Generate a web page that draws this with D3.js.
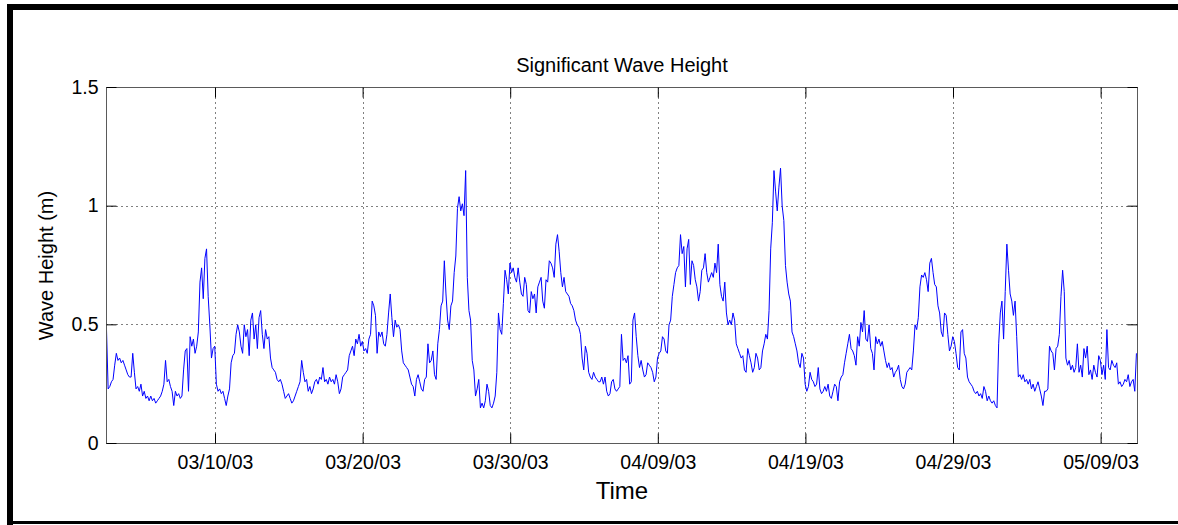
<!DOCTYPE html>
<html>
<head>
<meta charset="utf-8">
<script src="https://cdn.jsdelivr.net/npm/d3@7"></script>
<style>
  html, body { margin: 0; padding: 0; background: #fff; }
  svg { display: block; }
</style>
</head>
<body>
<svg id="chart" width="1178" height="525"></svg>
<script>
// Significant wave height record, one sample every 160 minutes from 2 March 2003 14:45 UTC
const sampleStart = "2003-03-02T14:45:00Z";
const sampleStepMinutes = 160;
const axisEnd = "2003-05-11T11:10:00Z";

// 2 March - 19 March
const hsEarlyMarch = [
  0.48,0.23,0.24,0.26,0.27,0.33,0.38,0.35,0.36,0.34,
  0.35,0.33,0.31,0.29,0.28,0.28,0.38,0.30,0.23,0.24,
  0.22,0.25,0.20,0.22,0.19,0.20,0.18,0.20,0.18,0.19,
  0.17,0.18,0.19,0.20,0.22,0.25,0.35,0.26,0.27,0.24,
  0.22,0.16,0.22,0.20,0.21,0.19,0.20,0.31,0.39,0.40,
  0.22,0.45,0.41,0.44,0.38,0.41,0.47,0.68,0.74,0.61,
  0.78,0.82,0.62,0.50,0.36,0.40,0.41,0.25,0.22,0.23,
  0.21,0.22,0.19,0.16,0.20,0.23,0.34,0.37,0.38,0.46,
  0.50,0.47,0.41,0.38,0.50,0.45,0.48,0.37,0.52,0.55,
  0.44,0.50,0.40,0.53,0.56,0.46,0.40,0.48,0.44,0.45,
  0.36,0.32,0.31,0.30,0.27,0.26,0.27,0.25,0.22,0.19,
  0.20,0.21,0.19,0.17,0.18,0.20,0.22,0.24,0.26,0.35,
  0.30,0.26,0.27,0.22,0.24,0.21,0.23,0.26,0.27,0.25,
  0.28,0.27,0.32,0.26,0.27,0.25,0.28,0.26,0.27,0.25,
  0.29,0.26,0.21,0.23,0.28,0.29,0.30,0.31,0.37,0.39,
  0.41,0.37,0.44,0.42,0.46
];

// 19 March - 5 April
const hsLateMarch = [
  0.41,0.43,0.39,0.40,0.38,0.44,0.46,0.60,0.58,0.54,
  0.38,0.47,0.45,0.47,0.42,0.41,0.46,0.55,0.63,0.53,
  0.45,0.52,0.49,0.50,0.48,0.39,0.34,0.33,0.32,0.31,
  0.28,0.25,0.24,0.20,0.27,0.29,0.26,0.23,0.22,0.27,
  0.28,0.42,0.34,0.35,0.39,0.29,0.27,0.42,0.48,0.58,
  0.60,0.77,0.63,0.52,0.48,0.58,0.60,0.72,0.79,0.99,
  1.04,0.98,1.01,0.96,1.15,0.70,0.56,0.52,0.35,0.31,
  0.20,0.23,0.27,0.15,0.17,0.15,0.18,0.25,0.22,0.16,
  0.15,0.17,0.20,0.30,0.55,0.48,0.46,0.59,0.73,0.69,
  0.63,0.76,0.72,0.74,0.70,0.68,0.74,0.68,0.63,0.62,
  0.70,0.67,0.56,0.55,0.64,0.61,0.63,0.55,0.66,0.68,
  0.70,0.60,0.57,0.69,0.68,0.77,0.76,0.74,0.70,0.84,
  0.88,0.81,0.72,0.66,0.70,0.64,0.63,0.62,0.59,0.58,
  0.56,0.52,0.50,0.49,0.46,0.36,0.31,0.41,0.38,0.30,
  0.28,0.27,0.30,0.28,0.27,0.26
];

// 5 April - 23 April
const hsApril = [
  0.26,0.28,0.25,0.28,0.22,0.20,0.21,0.26,0.27,0.23,
  0.22,0.23,0.24,0.46,0.35,0.36,0.34,0.37,0.25,0.26,
  0.52,0.55,0.45,0.37,0.32,0.35,0.31,0.28,0.29,0.34,
  0.33,0.32,0.30,0.26,0.28,0.36,0.38,0.39,0.45,0.44,
  0.39,0.38,0.50,0.52,0.62,0.67,0.72,0.74,0.75,0.88,
  0.80,0.83,0.66,0.82,0.86,0.67,0.77,0.75,0.69,0.66,
  0.60,0.64,0.73,0.74,0.80,0.72,0.68,0.70,0.72,0.70,
  0.76,0.72,0.84,0.67,0.62,0.60,0.68,0.55,0.50,0.52,
  0.50,0.55,0.52,0.42,0.40,0.38,0.36,0.37,0.31,0.30,
  0.40,0.37,0.34,0.30,0.32,0.38,0.36,0.31,0.32,0.39,
  0.42,0.46,0.44,0.56,0.82,0.93,1.15,1.06,0.98,1.08,
  1.16,1.00,0.94,0.75,0.68,0.63,0.60,0.47,0.45,0.42,
  0.39,0.34,0.32,0.38,0.36,0.25,0.22,0.24,0.30,0.27,
  0.26,0.24,0.25,0.32,0.23,0.21,0.22,0.24,0.22,0.25,
  0.20,0.19,0.22,0.25,0.24,0.18,0.26,0.28,0.29,0.34,
  0.38,0.42,0.46,0.40,0.39,0.37,0.33,0.45,0.41
];

// 23 April - 11 May
const hsMay = [
  0.51,0.47,0.56,0.44,0.43,0.50,0.40,0.38,0.31,0.45,
  0.42,0.44,0.41,0.43,0.39,0.35,0.32,0.34,0.31,0.32,
  0.28,0.30,0.31,0.33,0.27,0.24,0.23,0.25,0.30,0.31,
  0.32,0.31,0.39,0.50,0.48,0.53,0.66,0.71,0.70,0.72,
  0.69,0.64,0.76,0.78,0.72,0.67,0.66,0.58,0.55,0.47,
  0.45,0.55,0.54,0.46,0.39,0.41,0.45,0.43,0.38,0.32,
  0.31,0.47,0.48,0.38,0.36,0.28,0.26,0.25,0.24,0.22,
  0.21,0.22,0.20,0.21,0.19,0.24,0.22,0.18,0.20,0.18,
  0.17,0.18,0.16,0.15,0.42,0.55,0.60,0.44,0.64,0.84,
  0.73,0.63,0.60,0.54,0.60,0.45,0.28,0.29,0.27,0.29,
  0.26,0.27,0.25,0.27,0.23,0.25,0.22,0.24,0.26,0.23,
  0.20,0.16,0.22,0.22,0.23,0.41,0.39,0.38,0.31,0.40,
  0.41,0.46,0.62,0.73,0.64,0.36,0.33,0.35,0.31,0.33,
  0.30,0.32,0.42,0.30,0.33,0.28,0.40,0.36,0.41,0.29,
  0.31,0.27,0.33,0.30,0.28,0.37,0.35,0.29,0.33,0.27,
  0.48,0.32,0.31,0.35,0.33,0.32,0.34,0.25,0.26,0.24,
  0.25,0.27,0.26,0.29,0.24,0.26,0.27,0.22,0.38
];

const xTickLabels = ["03/10/03","03/20/03","03/30/03","04/09/03","04/19/03","04/29/03","05/09/03"];
const yTickValues = [0, 0.5, 1, 1.5];

const chartTitle = "Significant Wave Height";
const yTitle = "Wave Height (m)";
const xTitle = "Time";

const FONT = "'Liberation Sans', Arial, Helvetica, sans-serif";

const svg = d3.select("#chart");

// outer frame
svg.append("rect").attr("x", 7).attr("y", 4).attr("width", 1171).attr("height", 6).attr("fill", "#000");
svg.append("rect").attr("x", 7).attr("y", 4).attr("width", 6).attr("height", 521).attr("fill", "#000");
svg.append("rect").attr("x", 7).attr("y", 521).attr("width", 1171).attr("height", 3).attr("fill", "#000");

const plotLeft = 106.5, plotRight = 1137.5, plotTop = 87.5, plotBottom = 443.5;

const parseIso = d3.utcParse("%Y-%m-%dT%H:%M:%SZ");
const parseTick = d3.utcParse("%m/%d/%y");
const formatTick = d3.utcFormat("%m/%d/%y");

const t0 = parseIso(sampleStart);
const series = [].concat(hsEarlyMarch, hsLateMarch, hsApril, hsMay).map((v, i) => ({
  t: new Date(t0.getTime() + i * sampleStepMinutes * 60000),
  v: v
}));

const x = d3.scaleUtc().domain([t0, parseIso(axisEnd)]).range([plotLeft, plotRight]);
const y = d3.scaleLinear().domain([0, 1.5]).range([plotBottom, plotTop]);

const xTicks = xTickLabels.map(parseTick);
const crisp = p => Math.round(p - 0.5) + 0.5;

// dotted grid
const grid = svg.append("g").attr("stroke", "#000").attr("stroke-width", 1)
  .attr("stroke-dasharray", "1,4").attr("fill", "none");
xTicks.forEach(d => {
  const px = crisp(x(d));
  grid.append("line").attr("x1", px).attr("x2", px).attr("y1", plotTop).attr("y2", plotBottom);
});
yTickValues.filter(d => d > 0 && d < 1.5).forEach(d => {
  const py = crisp(y(d));
  grid.append("line").attr("x1", plotLeft).attr("x2", plotRight).attr("y1", py).attr("y2", py);
});

// data line
svg.append("clipPath").attr("id", "plotClip")
  .append("rect").attr("x", plotLeft).attr("y", plotTop)
  .attr("width", plotRight - plotLeft).attr("height", plotBottom - plotTop);

const line = d3.line().x(d => x(d.t)).y(d => y(d.v));
svg.append("path")
  .datum(series)
  .attr("clip-path", "url(#plotClip)")
  .attr("fill", "none")
  .attr("stroke", "#0000ff")
  .attr("stroke-width", 1)
  .attr("d", line);

// axes box
svg.append("rect").attr("x", plotLeft).attr("y", plotTop)
  .attr("width", plotRight - plotLeft).attr("height", plotBottom - plotTop)
  .attr("fill", "none").attr("stroke", "#5a5a5a").attr("stroke-width", 1);

function styleAxis(g, showText) {
  g.select(".domain").remove();
  g.selectAll(".tick line").attr("stroke", "#000").attr("stroke-width", 1);
  g.selectAll(".tick text")
    .attr("fill", "#000")
    .style("font-family", FONT)
    .style("font-size", "19.5px")
    .style("display", showText ? null : "none");
}

const xBottom = svg.append("g").attr("transform", `translate(0,${plotBottom})`)
  .call(d3.axisBottom(x).tickValues(xTicks).tickFormat(formatTick)
    .tickSizeInner(-10).tickSizeOuter(0).tickPadding(11.7).offset(0));
styleAxis(xBottom, true);

const xTopAxis = svg.append("g").attr("transform", `translate(0,${plotTop})`)
  .call(d3.axisTop(x).tickValues(xTicks).tickSizeInner(-10).tickSizeOuter(0).offset(0));
styleAxis(xTopAxis, false);

const yLeft = svg.append("g").attr("transform", `translate(${plotLeft},0)`)
  .call(d3.axisLeft(y).tickValues(yTickValues).tickFormat(d3.format(""))
    .tickSizeInner(-10).tickSizeOuter(0).tickPadding(8).offset(0));
styleAxis(yLeft, true);

const yRight = svg.append("g").attr("transform", `translate(${plotRight},0)`)
  .call(d3.axisRight(y).tickValues(yTickValues).tickSizeInner(-10).tickSizeOuter(0).offset(0));
styleAxis(yRight, false);

// titles
svg.append("text")
  .attr("x", (plotLeft + plotRight) / 2).attr("y", 72)
  .attr("text-anchor", "middle")
  .style("font-family", FONT).style("font-size", "20px")
  .text(chartTitle);

svg.append("text")
  .attr("transform", `translate(52.5,${(plotTop + plotBottom) / 2}) rotate(-90)`)
  .attr("text-anchor", "middle")
  .style("font-family", FONT).style("font-size", "20px")
  .text(yTitle);

svg.append("text")
  .attr("x", (plotLeft + plotRight) / 2).attr("y", 499)
  .attr("text-anchor", "middle")
  .style("font-family", FONT).style("font-size", "24px")
  .text(xTitle);
</script>
</body>
</html>
